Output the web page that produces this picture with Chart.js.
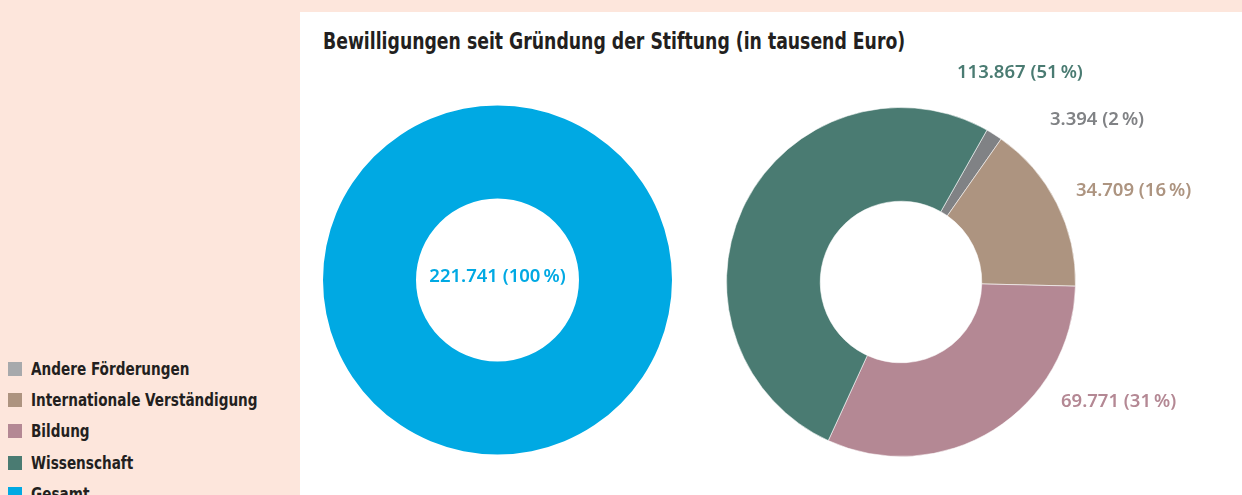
<!DOCTYPE html>
<html>
<head>
<meta charset="utf-8">
<script src="https://cdn.jsdelivr.net/npm/chart.js@4.4.0/dist/chart.umd.min.js"></script>
<style>
  body { margin: 0; width: 1242px; height: 495px; overflow: hidden; background: #fde6dc; position: relative; }
  #panel { position: absolute; left: 300px; top: 12px; width: 942px; height: 483px; background: #fff; }
  #title { position: absolute; left: 323px; top: 28px; margin: 0; font: bold 23px "DejaVu Sans Condensed", "Liberation Sans Narrow", sans-serif; color: #231f20; white-space: nowrap; transform: scaleX(0.835); transform-origin: left center; }
  #legend { position: absolute; left: 8px; top: 353px; font: bold 17px "DejaVu Sans Condensed", "Liberation Sans Narrow", sans-serif; color: #231f20; }
  .row { height: 31.3px; display: flex; align-items: center; white-space: nowrap; }
  .sw { width: 14px; height: 14px; margin-right: 9px; flex: none; }
  .txt { display: inline-block; transform: scaleX(0.89); transform-origin: left center; }
  canvas { position: absolute; }
  #leftChart { left: 300px; top: 12px; }
  #rightChart { left: 700px; top: 12px; }
</style>
</head>
<body>
<div id="panel"></div>
<h1 id="title">Bewilligungen seit Gründung der Stiftung (in tausend Euro)</h1>
<div id="legend"></div>
<canvas id="leftChart" width="400" height="483"></canvas>
<canvas id="rightChart" width="542" height="483"></canvas>
<script>
// ---- data (in tausend Euro) ----
const legendLabels = ["Andere Förderungen", "Internationale Verständigung", "Bildung", "Wissenschaft", "Gesamt"];
const legendColors = ["#a7a9ac", "#ad9480", "#b48894", "#4a7b72", "#00a9e3"];

const totalLabels = ["Gesamt"];
const totalValues = [221741];
const totalColors = ["#00a9e3"];

const areaLabels = ["Andere Förderungen", "Internationale Verständigung", "Bildung", "Wissenschaft"];
const areaValues = [3394, 34709, 69771, 113867];
const areaColors = ["#808285", "#ad9480", "#b48894", "#4a7b72"];

// label placement relative to the ring centre (left edge of text, middle)
const areaLabelOffsets = [[149, -162], [175, -91], [160, 120], [56, -209]];

// ---- legend ----
const legendEl = document.getElementById("legend");
legendLabels.forEach((l, i) => {
    const row = document.createElement("div");
    row.className = "row";
    row.innerHTML = `<span class="sw" style="background:${legendColors[i]}"></span><span class="txt">${l}</span>`;
    legendEl.appendChild(row);
});

// German number + percent text
function fmt(v, total) {
    const pct = Math.round(v / total * 100);
    return v.toLocaleString("de-DE") + " (" + pct + "\u202F%)";
}

const labelFont = "600 18.5px 'Noto Sans', 'Open Sans', sans-serif";

const sliceLabels = {
    id: "sliceLabels",
    afterDatasetsDraw(chart, args, opts) {
        const ctx = chart.ctx;
        const data = chart.data.datasets[0].data;
        const total = data.reduce((a, b) => a + b, 0);
        const arcs = chart.getDatasetMeta(0).data;
        ctx.save();
        ctx.font = labelFont;
        ctx.textBaseline = "middle";
        arcs.forEach((arc, i) => {
            ctx.fillStyle = chart.data.datasets[0].backgroundColor[i];
            if (opts.offsets) {
                ctx.textAlign = "left";
                ctx.fillText(fmt(data[i], total), arc.x + opts.offsets[i][0], arc.y + opts.offsets[i][1]);
            } else {
                ctx.textAlign = "center";
                ctx.fillText(fmt(data[i], total), arc.x, arc.y - 3);
            }
        });
        ctx.restore();
    }
};

const baseOptions = {
    responsive: false,
    animation: false,
    events: [],
    plugins: { legend: { display: false }, tooltip: { enabled: false } }
};

new Chart(document.getElementById("leftChart"), {
    type: "doughnut",
    data: {
        labels: totalLabels,
        datasets: [{ data: totalValues, backgroundColor: totalColors, borderWidth: 0 }]
    },
    options: {
        ...baseOptions,
        cutout: "46.7%",
        layout: { padding: { left: 23, right: 28, top: 93.5, bottom: 40.5 } },
        plugins: { ...baseOptions.plugins, sliceLabels: {} }
    },
    plugins: [sliceLabels]
});

new Chart(document.getElementById("rightChart"), {
    type: "doughnut",
    data: {
        labels: areaLabels,
        datasets: [{ data: areaValues, backgroundColor: areaColors, borderWidth: 1, borderColor: "rgba(255,255,255,0.55)" }]
    },
    options: {
        ...baseOptions,
        cutout: "46.3%",
        rotation: 29.5,
        layout: { padding: { left: 26, right: 166, top: 95, bottom: 38 } },
        plugins: { ...baseOptions.plugins, sliceLabels: { offsets: areaLabelOffsets } }
    },
    plugins: [sliceLabels]
});
</script>
</body>
</html>
